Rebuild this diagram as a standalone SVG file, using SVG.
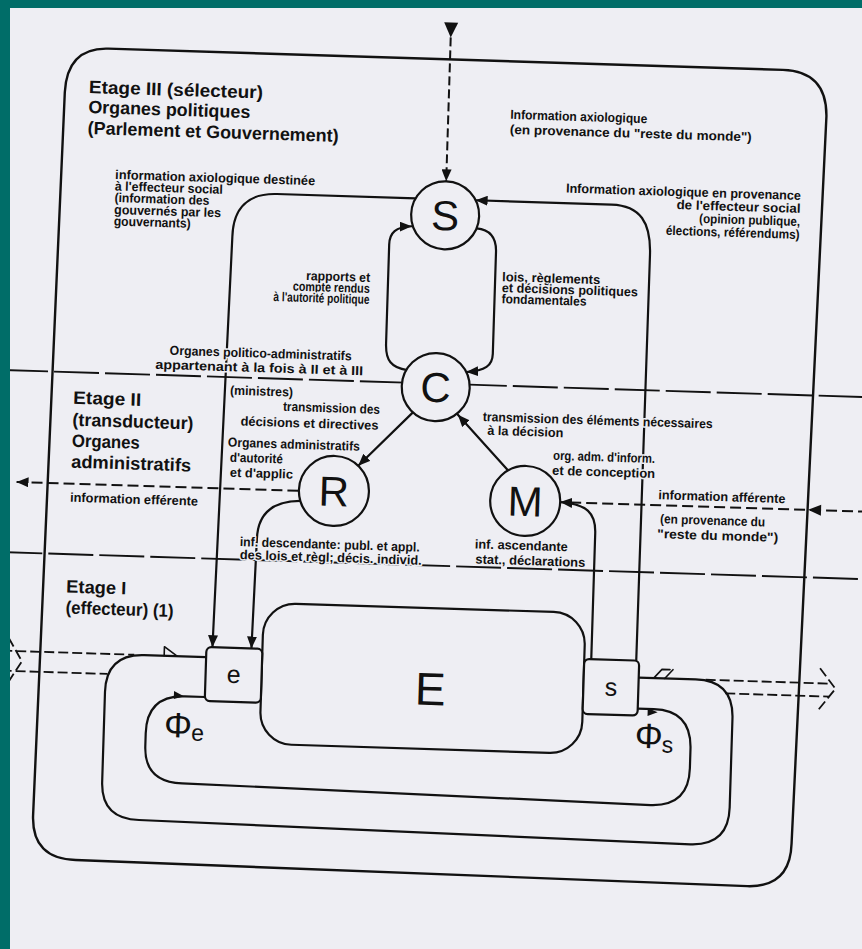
<svg xmlns="http://www.w3.org/2000/svg" width="862" height="949" viewBox="0 0 862 949">
<defs>
<style>
.ln{fill:none;stroke:#111;stroke-width:2.2;stroke-linecap:round;stroke-linejoin:round}
.bd{fill:none;stroke:#111;stroke-width:1.9;stroke-dasharray:45 6}
.da{fill:none;stroke:#111;stroke-width:2;stroke-dasharray:11 5}
.dd{fill:none;stroke:#111;stroke-width:1.8;stroke-dasharray:10 4}
.nd{fill:#eeeef3;stroke:#111;stroke-width:2.2}
.big{font-family:"Liberation Sans",Arial,sans-serif;font-weight:normal;fill:#111;text-anchor:middle}
.t{font-family:"Liberation Sans",Arial,sans-serif;font-weight:bold;font-size:13px;fill:#111;stroke:#eeeef3;stroke-width:3;paint-order:stroke;stroke-linejoin:round}
.L{font-family:"Liberation Sans",Arial,sans-serif;font-weight:bold;font-size:18px;fill:#111}
</style>
<marker id="ah" viewBox="0 0 12 10" refX="12" refY="5" markerWidth="12" markerHeight="10" markerUnits="userSpaceOnUse" orient="auto"><path d="M0 0 L12 5 L0 10 Z" fill="#111"/></marker>
</defs>
<rect x="0" y="0" width="862" height="949" fill="#eeeef3"/>
<g transform="rotate(1.8 431 474)">
<g id="frame">
<path class="ln" style="stroke-width:2.4" d="M95 59 L770 59 Q814 59 815 104 L803 832 Q803 876 760 876 L88 871 Q44 871 44 828 L53 104 Q54 59 95 59 Z"/>
<line class="bd" x1="0" y1="383.5" x2="880" y2="383.5"/>
<line class="bd" x1="0" y1="565.5" x2="880" y2="565.5"/>
</g>
<g id="connectors">
<polygon points="430,22 444,22 437,37" fill="#111"/>
<path class="da" style="stroke-dasharray:9 4" d="M437 37 L437 181" marker-end="url(#ah)"/>
<path class="ln" d="M404 371 C388 369 382 362 382 345 L382 246 C382 234 388 228 404 227" marker-end="url(#ah)"/>
<path class="ln" d="M469 227 C483 228 489 236 489 250 L489 352 C489 364 482 369 463 371" marker-end="url(#ah)"/>
<path class="ln" d="M407 199 L268 199 C240 199 225 214 225 243 L218 654" marker-end="url(#ah)"/>
<path class="ln" d="M642 654 L643 248 C643 216 632 199 603 199 L467 199" marker-end="url(#ah)"/>
<path class="ln" d="M411 413 L358 468" marker-end="url(#ah)"/>
<path class="ln" d="M508 468 L456 414" marker-end="url(#ah)"/>
<path class="ln" d="M301 505 C275 506 259 518 259 545 L257 654" marker-end="url(#ah)"/>
<path class="da" d="M870 498 L572 498"/>
<path class="ln" d="M597 654 L597 528 C597 508 588 499 561 498" marker-end="url(#ah)"/>
<polygon points="809,498 822,492.5 822,503.5" fill="#111"/>
<path class="da" d="M299 495 L17 495" marker-end="url(#ah)"/>
<path class="ln" d="M212 664 L150 664 Q112 664 112 702 L112 792 Q112 829 150 829 L702 836 Q740 836 740 798 L740 709 Q740 671 702 671 L645 671"/>
<path class="ln" d="M212 704 L192 704 Q154 704 154 742 L154 755 Q154 791 192 791 L661 798 Q699 798 699 760 L699 741 Q699 702 661 702 L645 702"/>
<path class="dd" d="M8 664 L140 664 M8 684 L114 684"/>
<path class="dd" d="M14 651 L28 674 L14 697"/>
<path class="dd" d="M712 671 L836 671 M732 684 L836 684"/>
<path class="dd" d="M826 656 L842 676 L826 697"/>
<path class="ln" style="stroke-width:1.6" d="M170 664 L170 655 L183 664"/>
<path class="ln" style="stroke-width:1.6" d="M660 671 L668 662 L676 662 M671 671 L679 662"/>
<polygon points="181,699 191,704 181,707" fill="#111"/>
<polygon points="655,701 665,705 655,709" fill="#111"/>
</g>
<g id="node-S"><circle class="nd" cx="437" cy="215" r="34"/><text class="big" x="437" y="230" font-size="42">S</text></g>
<g id="node-C"><circle class="nd" cx="433" cy="387" r="34"/><text class="big" x="433" y="402" font-size="42">C</text></g>
<g id="node-R"><circle class="nd" cx="334.5" cy="494" r="35"/><text class="big" x="334.5" y="509" font-size="42">R</text></g>
<g id="node-M"><circle class="nd" cx="526" cy="498" r="35"/><text class="big" x="526" y="513" font-size="42">M</text></g>
<g id="node-E"><rect class="nd" x="268" y="608" width="322" height="141" rx="32"/><text class="big" x="437" y="705" font-size="46">E</text></g>
<g id="node-e"><rect class="nd" x="212" y="654" width="56" height="54" rx="5"/><text class="big" x="240" y="689" font-size="25">e</text></g>
<g id="node-s"><rect class="nd" x="590" y="654" width="55" height="55" rx="5"/><text class="big" x="617.5" y="690" font-size="25">s</text></g>
<g id="phi">
<text class="big" x="186" y="745" font-size="35">Φ</text><text class="big" x="206" y="748" font-size="23">e</text>
<text class="big" x="657" y="741" font-size="35">Φ</text><text class="big" x="676" y="745" font-size="23">s</text>
</g>
<g id="labels">
<text class="L" x="77" y="104" textLength="174" lengthAdjust="spacingAndGlyphs">Etage III (sélecteur)</text>
<text class="L" x="77" y="124" textLength="162" lengthAdjust="spacingAndGlyphs">Organes politiques</text>
<text class="L" x="77" y="145" textLength="251" lengthAdjust="spacingAndGlyphs">(Parlement et Gouvernement)</text>
<text class="L" x="71" y="415" textLength="68" lengthAdjust="spacingAndGlyphs">Etage II</text>
<text class="L" x="71" y="437" textLength="121" lengthAdjust="spacingAndGlyphs">(transducteur)</text>
<text class="L" x="71" y="458" textLength="68" lengthAdjust="spacingAndGlyphs">Organes</text>
<text class="L" x="71" y="479" textLength="120" lengthAdjust="spacingAndGlyphs">administratifs</text>
<text class="L" x="70" y="604" textLength="60" lengthAdjust="spacingAndGlyphs">Etage I</text>
<text class="L" x="70" y="625" textLength="108" lengthAdjust="spacingAndGlyphs">(effecteur) (1)</text>
<text class="t" x="106" y="189" textLength="200" lengthAdjust="spacingAndGlyphs">information axiologique destinée</text>
<text class="t" x="106" y="200.5" textLength="108" lengthAdjust="spacingAndGlyphs">à l'effecteur social</text>
<text class="t" x="106" y="212" textLength="95" lengthAdjust="spacingAndGlyphs">(information des</text>
<text class="t" x="106" y="224" textLength="107" lengthAdjust="spacingAndGlyphs">gouvernés par les</text>
<text class="t" x="106" y="235.5" textLength="77" lengthAdjust="spacingAndGlyphs">gouvernants)</text>
<text class="t" x="300" y="284" textLength="64" lengthAdjust="spacingAndGlyphs">rapports et</text>
<text class="t" x="287" y="295" textLength="77" lengthAdjust="spacingAndGlyphs">compte rendus</text>
<text class="t" x="268" y="306" textLength="96" lengthAdjust="spacingAndGlyphs">à l'autorité politique</text>
<text class="t" x="496" y="279" textLength="98" lengthAdjust="spacingAndGlyphs">lois, règlements</text>
<text class="t" x="496" y="290" textLength="136" lengthAdjust="spacingAndGlyphs">et décisions politiques</text>
<text class="t" x="496" y="301" textLength="85" lengthAdjust="spacingAndGlyphs">fondamentales</text>
<text class="t" x="499" y="116.5" textLength="137" lengthAdjust="spacingAndGlyphs">Information axiologique</text>
<text class="t" x="499" y="131.5" textLength="242" lengthAdjust="spacingAndGlyphs">(en provenance du "reste du monde")</text>
<text class="t" x="557" y="188.5" textLength="235" lengthAdjust="spacingAndGlyphs">Information axiologique en provenance</text>
<text class="t" x="668" y="201.5" textLength="124" lengthAdjust="spacingAndGlyphs">de l'effecteur social</text>
<text class="t" x="691" y="214.5" textLength="101" lengthAdjust="spacingAndGlyphs">(opinion publique,</text>
<text class="t" x="658" y="227.5" textLength="134" lengthAdjust="spacingAndGlyphs">élections, référendums)</text>
<text class="t" x="166" y="363" textLength="182" lengthAdjust="spacingAndGlyphs">Organes politico-administratifs</text>
<text class="t" x="152" y="377.5" textLength="208" lengthAdjust="spacingAndGlyphs">appartenant à la fois à II et à III</text>
<text class="t" x="227.5" y="401" textLength="63" lengthAdjust="spacingAndGlyphs">(ministres)</text>
<text class="t" x="281" y="415.5" textLength="97" lengthAdjust="spacingAndGlyphs">transmission des</text>
<text class="t" x="239" y="431.5" textLength="138" lengthAdjust="spacingAndGlyphs">décisions et directives</text>
<text class="t" x="227" y="453" textLength="132" lengthAdjust="spacingAndGlyphs">Organes administratifs</text>
<text class="t" x="229.5" y="468" textLength="53" lengthAdjust="spacingAndGlyphs">d'autorité</text>
<text class="t" x="230" y="483" textLength="63" lengthAdjust="spacingAndGlyphs">et d'applic</text>
<text class="t" x="71" y="513" textLength="128" lengthAdjust="spacingAndGlyphs">information efférente</text>
<text class="t" x="481" y="419.5" textLength="230" lengthAdjust="spacingAndGlyphs">transmission des éléments nécessaires</text>
<text class="t" x="486" y="433" textLength="76" lengthAdjust="spacingAndGlyphs">à la décision</text>
<text class="t" x="552.5" y="456" textLength="102" lengthAdjust="spacingAndGlyphs">org. adm. d'inform.</text>
<text class="t" x="552" y="471" textLength="103" lengthAdjust="spacingAndGlyphs">et de conception</text>
<text class="t" x="659" y="492" textLength="127" lengthAdjust="spacingAndGlyphs">information afférente</text>
<text class="t" x="661.5" y="516" textLength="105" lengthAdjust="spacingAndGlyphs">(en provenance du</text>
<text class="t" x="659" y="531" textLength="121" lengthAdjust="spacingAndGlyphs">"reste du monde")</text>
<text class="t" x="477" y="547" textLength="93" lengthAdjust="spacingAndGlyphs">inf. ascendante</text>
<text class="t" x="478" y="562" textLength="110" lengthAdjust="spacingAndGlyphs">stat., déclarations</text>
<text class="t" x="242" y="552" textLength="180" lengthAdjust="spacingAndGlyphs">inf. descendante: publ. et appl.</text>
<text class="t" x="242.5" y="565" textLength="182" lengthAdjust="spacingAndGlyphs">des lois et règl; décis. individ.</text>
</g>
</g>
<rect x="0" y="0" width="862" height="8" fill="#006d68"/>
<rect x="0" y="0" width="10" height="949" fill="#006d68"/>
</svg>
